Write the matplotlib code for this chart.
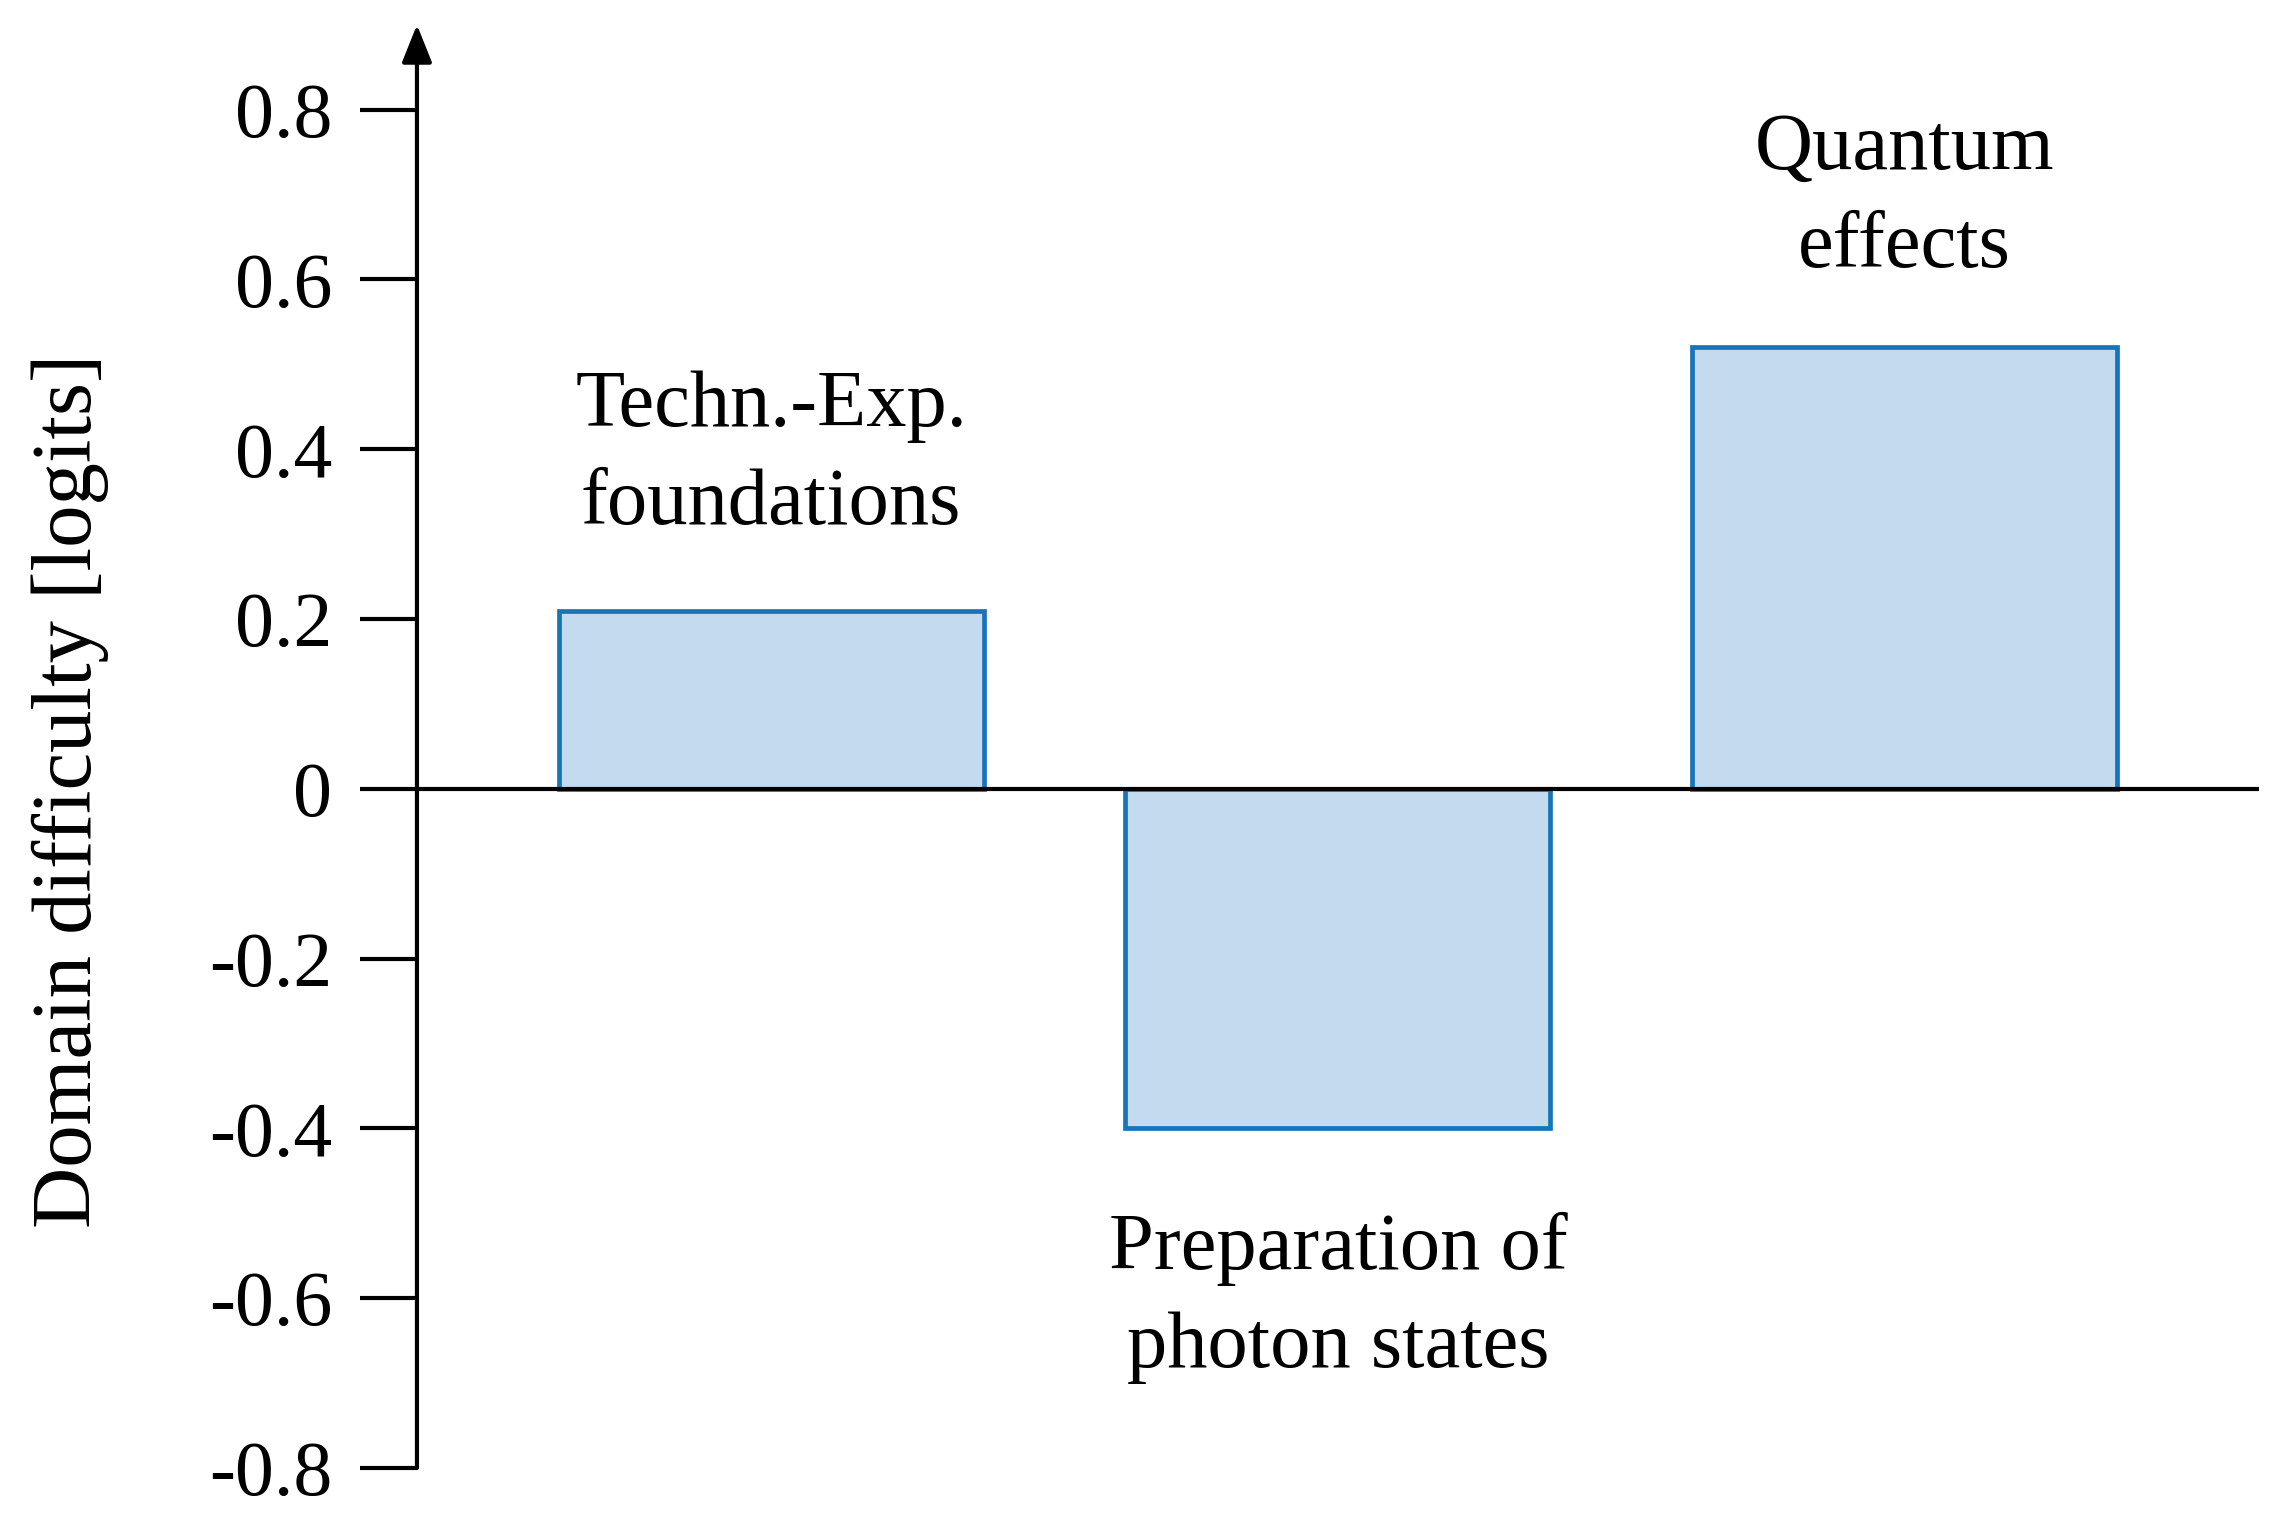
import matplotlib
matplotlib.use("Agg")
import matplotlib.pyplot as plt

# domain difficulty estimates (logits)
domains = ["Techn.-Exp.\nfoundations", "Preparation of\nphoton states", "Quantum\neffects"]
difficulty = [0.21, -0.40, 0.52]
label_y = [0.393, -0.60, 0.695]
tick_values = [0.8, 0.6, 0.4, 0.2, 0, -0.2, -0.4, -0.6, -0.8]
tick_labels = ["0.8", "0.6", "0.4", "0.2", "0", "-0.2", "-0.4", "-0.6", "-0.8"]

plt.rcParams["font.family"] = ["Liberation Serif", "DejaVu Serif"]
FS = 56

fig = plt.figure(figsize=(22.91, 15.32), dpi=100)
ax = fig.add_axes([0.182, 0.0418, 0.804, 0.942])

x = [1, 2, 3]
ax.bar(x, difficulty, width=0.75, color="#c4daee", edgecolor="#1874b8",
       linewidth=3.4, zorder=2)
ax.axhline(0, color="black", linewidth=3, zorder=3)

for xi, name, ly in zip(x, domains, label_y):
    ax.text(xi, ly, name, ha="center", va="center", fontsize=58,
            linespacing=1.45)

ax.set_xlim(0.375, 3.625)
ax.set_ylim(-0.8, 0.9)

# y axis with arrow on top
for s in ["top", "right", "bottom", "left"]:
    ax.spines[s].set_visible(False)
ax.annotate("", xy=(0, 0.9), xytext=(0, -0.8),
            xycoords=ax.get_yaxis_transform(),
            textcoords=ax.get_yaxis_transform(),
            arrowprops=dict(arrowstyle="-|>,head_length=0.4,head_width=0.16",
                            mutation_scale=58, color="black", lw=3,
                            shrinkA=0, shrinkB=0),
            annotation_clip=False)

ax.set_xticks([])
ax.set_yticks(tick_values)
ax.set_yticklabels(tick_labels)
ax.tick_params(axis="y", direction="out", length=41, width=3, pad=20,
               labelsize=FS)

fig.text(0.0306, 0.484, "Domain difficulty [logits]", rotation=90,
         ha="center", va="center", fontsize=61)

fig.savefig("out.png", dpi=100)
